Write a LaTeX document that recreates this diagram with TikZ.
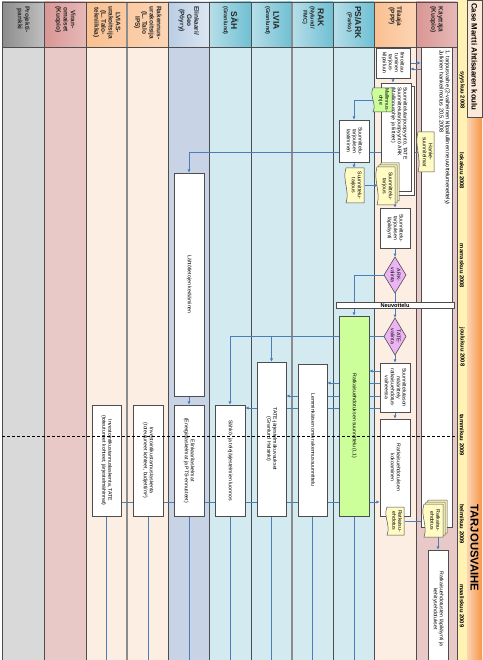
\documentclass[tikz,border=0pt]{standalone}
\usepackage{fontspec}
\setmainfont{Liberation Sans}
\usepackage{graphicx}
\usetikzlibrary{arrows.meta,calc}
\pgfdeclarelayer{lanes}
\pgfdeclarelayer{conn}
\pgfsetlayers{lanes,conn,main}
\definecolor{flow}{HTML}{4A7EBB}
\definecolor{bord}{HTML}{4D4D4D}
\definecolor{greyb}{HTML}{D9D9D9}
\definecolor{pinkb}{HTML}{E9C9C8}
\definecolor{peachb}{HTML}{FDEEE3}
\definecolor{blueb}{HTML}{C8D4E5}
\definecolor{tealb}{HTML}{D3EAF0}
\definecolor{docy}{HTML}{FFFBC2}
\definecolor{docg}{HTML}{CCFF99}
\definecolor{diam}{HTML}{EDB4F5}
\definecolor{yel}{HTML}{FFF2B3}
\definecolor{titleb}{HTML}{FDE9D9}
\definecolor{orL}{HTML}{FBD4B4}
\definecolor{orR}{HTML}{F79646}
\definecolor{hgreyL}{HTML}{BFBFBF}\definecolor{hgreyR}{HTML}{8C8C8C}
\definecolor{hpinkL}{HTML}{E6B9B8}\definecolor{hpinkR}{HTML}{D99694}
\definecolor{horL}{HTML}{FCD5B5}\definecolor{horR}{HTML}{FAC090}
\definecolor{hbluL}{HTML}{DCE6F2}\definecolor{hbluR}{HTML}{B9CDE5}
\definecolor{htealL}{HTML}{B7DEE8}\definecolor{htealR}{HTML}{6FC0D4}
\newcommand\rtxt[2][c]{\rotatebox{-90}{\begin{tabular}{@{}#1@{}}#2\end{tabular}}}
\newcommand\bodyfont{\fontsize{5.2}{5.9}\selectfont}
\newcommand\hfont{\fontsize{6.5}{7.2}\selectfont\bfseries}
\newcommand\bigh[1]{{\fontsize{8.5}{9.5}\selectfont #1}}
\newcommand\smh[1]{{\fontsize{5.6}{6.2}\selectfont #1}}
\tikzset{
  bx/.style={draw=bord, fill=white, line width=0.7pt, inner sep=0pt, font=\bodyfont},
  flowl/.style={draw=flow, line width=0.9pt},
  fa/.style={flowl, -{Latex[length=3.2pt,width=3.2pt]}},
  docl/.style={draw=bord, line width=0.5pt},
  sep/.style={draw=bord, line width=0.6pt},
  hdr/.style={anchor=north, inner sep=0pt, font=\hfont, text=black!85},
  month/.style={inner sep=0pt, font=\fontsize{5.8}{6.5}\selectfont\bfseries},
}
% box: name, x1,y1,x2,y2, text
\newcommand\B[7][]{\node[bx,#1,minimum width={(#5-#3)*1pt},minimum height={(#6-#4)*1pt}] (#2) at ({(#3+#5)/2},{(#4+#6)/2}) {#7};}
% document path: fill, offset, x1,y1,x2,y2
\newcommand\docp[6]{\draw[docl,fill=#1] ({#3+#2},{#4-#2}) .. controls ({#3+#2-4},{#4-#2+(#6-#4)*0.35}) and ({#3+#2+4},{#4-#2+(#6-#4)*0.65}) .. ({#3+#2},{#6-#2}) -- ({#5+#2},{#6-#2}) -- ({#5+#2},{#4-#2}) -- cycle;}
\newcommand\D[7][docy]{\docp{#1}{0}{#3}{#4}{#5}{#6}\node[inner sep=0pt,font=\bodyfont,minimum width={(#5-#3)*1pt},minimum height={(#6-#4)*1pt}] (#2) at ({(#3+#5)/2+1},{(#4+#6)/2}) {#7};}
\newcommand\SD[7][docy]{\docp{#1}{4}{#3}{#4}{#5}{#6}\docp{#1}{2}{#3}{#4}{#5}{#6}\D[#1]{#2}{#3}{#4}{#5}{#6}{#7}}
\begin{document}
\begin{tikzpicture}[x=1pt,y=-1pt]
\useasboundingbox (0,0) rectangle (482,660);
\begin{pgfonlayer}{lanes}
\fill[white] (0,0) rectangle (482,660);
\fill[greyb] (2,47) rectangle (44,660);
\fill[pinkb] (44,47) rectangle (86,660);
\fill[peachb] (86,47) rectangle (168,660);
\fill[blueb] (168,47) rectangle (209,660);
\fill[tealb] (209,47) rectangle (374,660);
\fill[peachb] (374,47) rectangle (416,660);
\fill[pinkb] (416,47) rectangle (457,660);
\shade[left color=hgreyR,right color=hgreyL] (2,2) rectangle (44,47);
\shade[left color=hpinkR,right color=hpinkL] (44,2) rectangle (86,47);
\shade[left color=horR,right color=horL] (86,2) rectangle (168,47);
\shade[left color=hbluR,right color=hbluL] (168,2) rectangle (209,47);
\foreach \a/\b in {209/251,251/292,292/333,333/374}
  \shade[left color=htealL,right color=htealR] (\a,2) rectangle (\b,47);
\shade[left color=horR,right color=horL] (374,2) rectangle (416,47);
\shade[left color=hpinkR,right color=hpinkL] (416,2) rectangle (457,47);
\fill[yel] (457,0) rectangle (467,660);
\shade[left color=orL,right color=orR] (467,117) rectangle (482,660);
\draw[sep,fill=titleb] (467,0) rectangle (482,117);
\foreach \x in {2,44,86,168,209,251,333,374,416,457} \draw[sep] (\x,2) -- (\x,660);
\foreach \x in {127,292} \draw[draw=black!45,line width=1.2pt] (\x,2) -- (\x,660);
\draw[sep] (2,2) -- (457,2) (2,47) -- (457,47);
\end{pgfonlayer}
% headers
\node[hdr] (h1) at (23,6) {\rtxt{Projekti-\\pankki}};
\node[hdr] (h2) at (65,6) {\rtxt{Viran-\\omaiset\\(Kuopio)}};
\node[hdr] (h3) at (106.5,6) {\rtxt{LVIAS-\\urakoitsija\\(L. Talo-\\tekniikka)}};
\node[hdr] (h4) at (147.5,6) {\rtxt{Rakennus-\\urakoitsija\\(L. Talo\\IPS)}};
\node[hdr] (h5) at (188.5,6) {\rtxt{Elinkaari/\\Geo\\(Pöyry)}};
\node[hdr] (h6) at (230,6) {\rtxt{\bigh{SÄH}\\\smh{(Granlund)}}};
\node[hdr] (h7) at (271.5,6) {\rtxt{\bigh{LVIA}\\\smh{(Granlund)}}};
\node[hdr] (h8) at (312.5,6) {\rtxt{\bigh{RAK}\\\smh{(Nylund/}\\\smh{FMC)}}};
\node[hdr] (h9) at (353.5,6) {\rtxt{\bigh{PS/ARK}\\\smh{(Parko)}}};
\node[hdr] (h10) at (395,6) {\rtxt{Tilaaja\\(PPP)}};
\node[hdr] (h11) at (436.5,6) {\rtxt{Käyttäjä\\(Kuopio)}};
% title column and months
\node[anchor=north,inner sep=0pt,font=\fontsize{7.8}{8}\selectfont\bfseries] (title) at (474.5,3) {\rotatebox{-90}{Case Martti Ahtisaaren koulu}};
\node[inner sep=0pt,font=\fontsize{11.3}{12}\selectfont\bfseries] (phase) at (474.5,548) {\rotatebox{-90}{TARJOUSVAIHE}};
\foreach \yy/\t in {90/syyskuu 2008,171/lokakuu 2008,266/marraskuu 2008,347/joulukuu 2008,435/tammikuu 2009,524/helmikuu 2009,606/maaliskuu 2009}
  \node[month] at (462,\yy) {\rotatebox{-90}{\t}};
% Käyttäjä
\B{kayt}{421}{47}{452}{527}{}
\node[anchor=north,inner sep=0pt,font=\fontsize{5.6}{6.3}\selectfont] (kaytt) at (444,50) {\rtxt[l]{1. tarjousvaihe (2-vaiheinen kilpailullinen neuvottelumenettely)\\Julkinen hankeilmoitus 20.5.2008}};
\D{hanke}{418}{132}{434}{172}{\rtxt{Hanke-\\suunnitelmat}}
% Tilaaja
\B{ilm}{376}{48}{410}{78}{\rtxt{Ilmoittau-\\tuminen\\tarjous-\\kilpailuun}}
\draw[bx] (384,86) rectangle (414,195);
\B{suuntp}{381}{83}{411}{191}{}
\node[anchor=north,inner sep=0pt,font=\bodyfont] (suunt) at (399,87) {\rtxt[l]{Suunnittelutarjouspyyntö, TATE\\Suunnittelutarjouspyyntö ARK\\(Mallinnusohje ja liitteet)}};
\D[docg]{mall}{373}{88}{392}{112}{\rtxt{Mallinnus-\\ohje}}
\SD{st2}{377}{167}{395}{205}{\rtxt{Suunnittelu-\\tarjous}}
\B{stlk}{380}{208}{410}{248}{\rtxt{Suunnittelu-\\tarjouksen\\läpikäynti}}
\draw[draw=bord,line width=0.6pt,fill=diam] (395,257) -- (406,275) -- (395,293) -- (384,275) -- cycle;
\node[inner sep=0pt,minimum width=22pt,minimum height=36pt,font=\bodyfont] (ark) at (395,275) {\rtxt{ARK-\\valinta}};
\B[font=\fontsize{5.6}{6}\selectfont\bfseries]{neuv}{336}{302}{454}{308}{Neuvottelu}
\draw[draw=bord,line width=0.6pt,fill=diam] (395,318) -- (406,336.5) -- (395,355) -- (384,336.5) -- cycle;
\node[inner sep=0pt,minimum width=22pt,minimum height=37pt,font=\bodyfont] (tate) at (395,336.5) {\rtxt{TATE-\\valinta}};
\B{stm}{380}{363}{410}{412}{\rtxt{Suunnittelutason\\määrittely\\ratkaisuehdotus-\\vaiheessa}}
\B{rk}{380}{419}{410}{516}{\rtxt{Ratkaisuehdotuksen\\kokoaminen}}
\D{rdoc1}{387}{507}{404}{535}{\rtxt{Ratkaisu-\\ehdotus}}
\SD{rdoc2}{424}{504}{443}{537}{\rtxt{Ratkaisu-\\ehdotus}}
\B{rlk}{428}{550}{448}{668}{\rtxt{Ratkaisuehdotusten läpikäynti ja\\kehitysehdotukset}}
% PS/ARK
\B{stl}{339}{120}{369}{162}{\rtxt{Suunnittelu-\\tarjouksen\\laatiminen}}
\D{st1}{346}{168}{364}{203}{\rtxt{Suunnittelu-\\tarjous}}
\B[fill=docg]{rsu}{339}{316}{369}{516}{\rtxt{Ratkaisuehdotuksen suunnittelu (L1)}}
% other lanes
\B{lem}{298}{364}{327}{516}{\rtxt{Lemminkäisen oma rakennussuunnittelu}}
\B{tatej}{257}{362}{286}{516}{\rtxt{TATE-järjestelmäkuvaukset\\(Granlund Helsinki)}}
\B{sah}{215}{405}{245}{516}{\rtxt{Sähkö- ja telejärjestelmien luonnos}}
\B{lah}{174}{173}{204}{396}{\rtxt{Lähtötietojen kerääminen}}
\B{elin}{174}{405}{204}{516}{\rtxt{Elinkaarilaskelmat\\(Energialaskelmat ja PTS-ennusteet)}}
\B{inv1}{133}{405}{163}{516}{\rtxt{Investointikustannuslaskenta\\(toteutuneet kohteet, budjetti/m²)}}
\B{inv2}{92}{405}{121}{516}{\rtxt{Investointikustannuslaskenta, TATE\\(toteutuneet kohteet, järjestelmähinnat)}}
\coordinate (bot) at (0,660);
% connectors
\begin{pgfonlayer}{conn}
\draw[fa] (ilm.east) -- (ilm.east -| kayt.west);
\draw[fa] ($(ilm.east -| kayt.west)+(0,6)$) -- ($(ilm.east)+(0,6)$);
\draw[fa] (ilm.south) -- (ilm.south |- suuntp.north);
\draw[fa] (mall.west) -| (stl.north);
\draw[fa] (hanke.west) -| (lah.north);
\draw[fa] (stl.south) -- (stl.south |- st1.north);
\draw[fa] (st1.east) -- (st1.east -| st2.west);
\draw[fa] (stlk.north |- st2.south) -- (stlk.north);
\draw[fa] (stlk.south) -- (ark.north);
\draw[fa] (ark.west) -| (rsu.north);
\draw[fa] (ark.south) -- (tate.north);
\draw[fa] (tate.west) -| (tatej.north);
\draw[fa] (tate.west) -| (sah.north);
\draw[fa] (tate.south) -- (stm.north);
\draw[fa] ($(stm.west)+(0,-16.5)$) -- ($(stm.west -| rsu.east)+(0,-16.5)$);
\draw[fa] ($(stm.west)+(0,-4.5)$) -- ($(stm.west -| lem.east)+(0,-4.5)$);
\draw[fa] ($(stm.west)+(0,8.5)$) -- ($(stm.west -| tatej.east)+(0,8.5)$);
\draw[fa] ($(stm.west)+(0,20.5)$) -- ($(stm.west -| sah.east)+(0,20.5)$);
\draw[fa] (stm.south) -- (rk.north);
\draw[fa] ($(inv2.east)+(0,41.5)$) -- ($(inv2.east -| rk.west)+(0,41.5)$);
\draw[fa] (rdoc1.east) -- (rdoc1.east -| rdoc2.west);
\draw[fa] (rlk.north |- rdoc2.south) -- (rlk.north);
\draw[fa] (lah.south) -- (elin.north);
\foreach \n in {inv2,inv1,elin,sah,tatej,lem,rsu} \draw[flowl] (\n.south) -- (\n.south |- bot);
\end{pgfonlayer}
\draw[densely dashed,line width=0.6pt] (2,436) -- (457,436);
\end{tikzpicture}
\end{document}
